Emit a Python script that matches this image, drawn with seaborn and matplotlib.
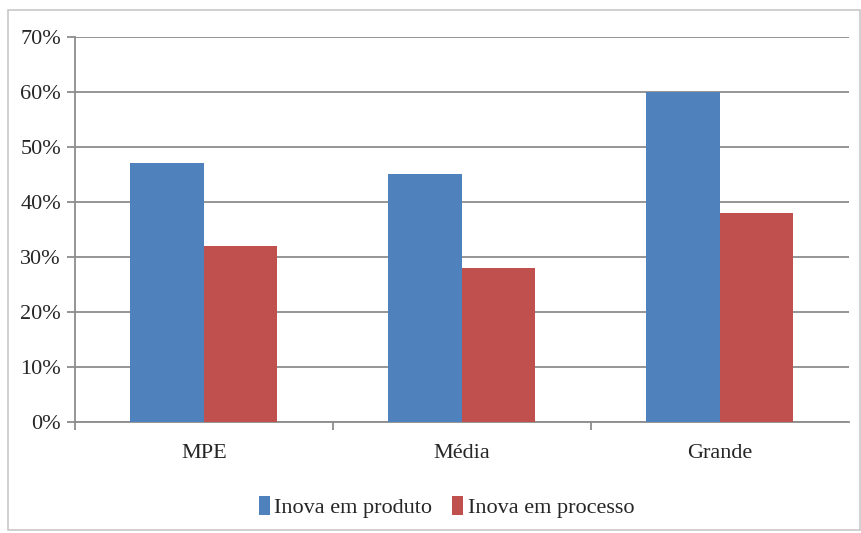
import pandas as pd
import matplotlib.pyplot as plt
import seaborn as sns
from matplotlib.patches import Rectangle
from matplotlib.ticker import FuncFormatter, FixedLocator

# Values
categorias = ["MPE", "Média", "Grande"]
inova_produto = [47, 45, 60]
inova_processo = [32, 28, 38]
series = ["Inova em produto", "Inova em processo"]

df = pd.DataFrame({
    "categoria": categorias * 2,
    "valor": inova_produto + inova_processo,
    "serie": [series[0]] * 3 + [series[1]] * 3,
})

sns.set_style("white")
plt.rcParams['font.family'] = ['Liberation Serif', 'DejaVu Serif']

fig = plt.figure(figsize=(8.61, 5.33), dpi=100)
ax = fig.add_axes([0.087, 0.208, 0.899, 0.723])

# outer chart frame
fig.patches.append(Rectangle((0.009, 0.005), 0.99, 0.977, transform=fig.transFigure,
                             fill=False, edgecolor='#c8c8c8', linewidth=1.2))

sns.barplot(data=df, x="categoria", y="valor", hue="serie",
            palette=["#4F81BD", "#C0504D"], width=0.57, gap=0,
            saturation=1, linewidth=0, edgecolor='none', ax=ax, zorder=3)

ax.set_ylim(0, 70)
ax.set_xlim(-0.5, 2.5)
ax.set_yticks(range(0, 71, 10))
ax.yaxis.set_major_formatter(FuncFormatter(lambda v, p: f"{int(v)}%"))
ax.yaxis.grid(True, color='#8c8c8c', linewidth=1.3, zorder=0)
ax.set_axisbelow(True)
ax.set_xlabel("")
ax.set_ylabel("")

for s in ["top", "right"]:
    ax.spines[s].set_visible(False)
for s in ["left", "bottom"]:
    ax.spines[s].set_color('#8c8c8c')
    ax.spines[s].set_linewidth(1.3)

ax.tick_params(axis='y', length=6, color='#8c8c8c', width=1.3, labelsize=16, pad=4, left=True)
ax.tick_params(axis='x', which='major', length=0, labelsize=16, pad=16)
ax.xaxis.set_minor_locator(FixedLocator([-0.5, 0.5, 1.5]))
ax.tick_params(axis='x', which='minor', length=6, color='#8c8c8c', width=1.3, bottom=True)

ax.legend(loc='upper center', bbox_to_anchor=(0.48, -0.14), ncol=2, frameon=False,
          fontsize=16, handlelength=0.5, handleheight=0.9, handletextpad=0.2,
          columnspacing=0.9)

plt.savefig("out.png", dpi=100)
